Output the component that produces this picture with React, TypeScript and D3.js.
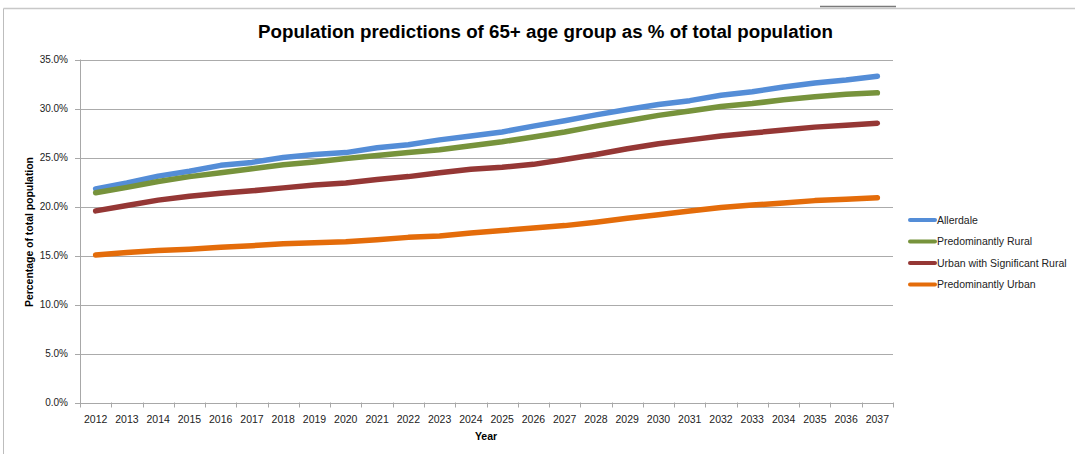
import React from "react";
import * as d3 from "d3";

const years: string[] = [
  "2012","2013","2014","2015","2016","2017","2018","2019","2020","2021","2022","2023","2024",
  "2025","2026","2027","2028","2029","2030","2031","2032","2033","2034","2035","2036","2037",
];

const allerdale: number[] = [
  21.8, 22.4, 23.1, 23.6, 24.2, 24.5, 25.0, 25.3, 25.5, 26.0, 26.3, 26.8, 27.2,
  27.6, 28.2, 28.75, 29.35, 29.9, 30.4, 30.8, 31.35, 31.7, 32.2, 32.6, 32.9, 33.3,
];
const predominantlyRural: number[] = [
  21.4, 21.95, 22.55, 23.05, 23.45, 23.85, 24.25, 24.55, 24.9, 25.2, 25.5, 25.8, 26.2,
  26.6, 27.1, 27.6, 28.2, 28.75, 29.3, 29.75, 30.2, 30.5, 30.9, 31.2, 31.45, 31.6,
];
const urbanSigRural: number[] = [
  19.55, 20.1, 20.65, 21.05, 21.35, 21.6, 21.9, 22.2, 22.4, 22.75, 23.05, 23.45, 23.8,
  24.0, 24.3, 24.8, 25.3, 25.9, 26.4, 26.8, 27.2, 27.5, 27.8, 28.1, 28.3, 28.5,
];
const predominantlyUrban: number[] = [
  15.05, 15.3, 15.5, 15.65, 15.85, 16.0, 16.2, 16.3, 16.4, 16.6, 16.85, 17.0, 17.3,
  17.55, 17.8, 18.05, 18.4, 18.8, 19.15, 19.55, 19.9, 20.15, 20.35, 20.6, 20.75, 20.9,
];

const seriesNames: string[] = [
  "Allerdale",
  "Predominantly Rural",
  "Urban with Significant Rural",
  "Predominantly Urban",
];
const seriesValues: number[][] = [allerdale, predominantlyRural, urbanSigRural, predominantlyUrban];
const seriesColors: string[] = ["#548DD7", "#77933C", "#953735", "#E46C0A"];

const yTicks: number[] = [0, 5, 10, 15, 20, 25, 30, 35];

const title = "Population predictions of 65+ age group as % of total population";
const yTitle = "Percentage of total population";
const xTitle = "Year";

const FONT = "'Liberation Sans', Arial, sans-serif";

export default function App() {
  const left = 80;
  const right = 893;
  const top = 59.5;
  const bottom = 402.5;

  const x = d3.scaleBand<string>().domain(years).range([left, right]).paddingInner(0).paddingOuter(0);
  const y = d3.scaleLinear().domain([0, 35]).range([bottom, top]);
  const cx = (yr: string) => (x(yr) as number) + x.bandwidth() / 2;

  const line = d3
    .line<number>()
    .x((_, i) => cx(years[i]))
    .y((d) => y(d));

  const tickEdges = years.map((yr) => x(yr) as number).concat([right]);

  return (
    <svg
      width={1075}
      height={454}
      style={{ position: "absolute", left: 0, top: 0, background: "#fff" }}
    >
      <rect x={0} y={0} width={1075} height={454} fill="#fff" />
      {/* frame */}
      <line x1={3.5} y1={8.5} x2={1075} y2={8.5} stroke="#C8C8C8" strokeWidth={1.5} />
      <line x1={3.5} y1={8.5} x2={3.5} y2={454} stroke="#BDBDBD" strokeWidth={1} />
      <line x1={820} y1={6.5} x2={896} y2={6.5} stroke="#7A7A7A" strokeWidth={1.5} />

      {/* title */}
      <text
        x={545.5}
        y={38}
        textAnchor="middle"
        fontFamily={FONT}
        fontWeight="bold"
        fontSize={17.5}
        textLength={575}
        lengthAdjust="spacingAndGlyphs"
        fill="#000"
      >
        {title}
      </text>

      {/* gridlines */}
      {yTicks.map((t) => (
        <line
          key={"g" + t}
          x1={left}
          x2={right}
          y1={Math.round(y(t)) + 0.5}
          y2={Math.round(y(t)) + 0.5}
          stroke="#ABABAB"
          strokeWidth={1}
        />
      ))}
      {/* y axis */}
      <line x1={left + 0.5} x2={left + 0.5} y1={top} y2={bottom + 1} stroke="#A8A8A8" />
      {yTicks.map((t) => (
        <g key={"yt" + t}>
          <line x1={left - 5} x2={left} y1={Math.round(y(t)) + 0.5} y2={Math.round(y(t)) + 0.5} stroke="#A8A8A8" />
          <text
            x={68}
            y={y(t) + 3.5}
            textAnchor="end"
            fontFamily={FONT}
            fontSize={10}
            fill="#222"
          >
            {t.toFixed(1) + "%"}
          </text>
        </g>
      ))}
      {/* x axis */}
      <line x1={left} x2={right} y1={Math.round(bottom) + 0.5} y2={Math.round(bottom) + 0.5} stroke="#A8A8A8" />
      {tickEdges.map((e, i) => (
        <line
          key={"xt" + i}
          x1={Math.round(e) + 0.5}
          x2={Math.round(e) + 0.5}
          y1={bottom}
          y2={bottom + 5}
          stroke="#A8A8A8"
        />
      ))}
      {years.map((yr) => (
        <text
          key={"xl" + yr}
          x={cx(yr)}
          y={423}
          textAnchor="middle"
          fontFamily={FONT}
          fontSize={10.5}
          fill="#222"
        >
          {yr}
        </text>
      ))}

      {/* axis titles */}
      <text
        x={486}
        y={440}
        textAnchor="middle"
        fontFamily={FONT}
        fontWeight="bold"
        fontSize={10.5}
        fill="#000"
      >
        {xTitle}
      </text>
      <text
        transform={`translate(33,232) rotate(-90)`}
        textAnchor="middle"
        fontFamily={FONT}
        fontWeight="bold"
        fontSize={10}
        textLength={150}
        lengthAdjust="spacingAndGlyphs"
        fill="#000"
      >
        {yTitle}
      </text>

      {/* series */}
      {seriesValues.map((vals, si) => (
        <path
          key={"s" + si}
          d={line(vals) as string}
          fill="none"
          stroke={seriesColors[si]}
          strokeWidth={5.5}
          strokeLinecap="round"
          strokeLinejoin="round"
        />
      ))}

      {/* legend */}
      {seriesNames.map((name, i) => {
        const ly = 220 + i * 21.5;
        return (
          <g key={"lg" + i}>
            <line x1={910} x2={935} y1={ly} y2={ly} stroke={seriesColors[i]} strokeWidth={4} strokeLinecap="round" />
            <text x={937} y={ly + 3.5} fontFamily={FONT} fontSize={10.5} fill="#222">
              {name}
            </text>
          </g>
        );
      })}
    </svg>
  );
}
